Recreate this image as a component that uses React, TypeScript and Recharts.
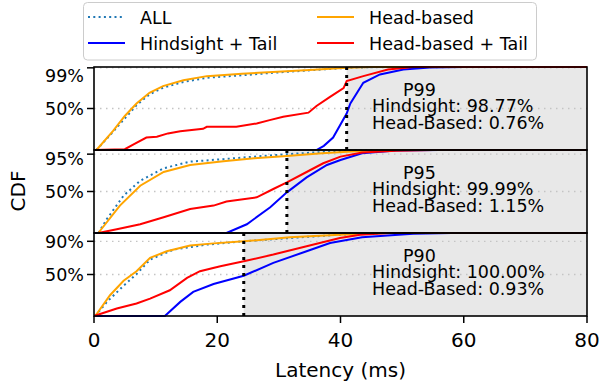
import React from 'react';
import { LineChart, Line, XAxis, YAxis, ReferenceArea, ReferenceLine, Label } from 'recharts';

const FONT = '"DejaVu Sans", Verdana, sans-serif';
const X_TICKS = [0, 20, 40, 60, 80];

// [latency ms, cumulative fraction]
const p99All = [[0.4, 0], [3.1, 0.22], [5, 0.38], [6.9, 0.54], [9, 0.67], [11.2, 0.75], [14.5, 0.82], [18.3, 0.87], [24, 0.9], [29, 0.93], [35, 0.96], [41, 0.99], [46, 1], [80, 1]];
const p99Hind = [[0, 0], [36.1, 0], [37.3, 0.05], [38.8, 0.15], [41, 0.44], [41.6, 0.56], [43.7, 0.81], [46.4, 0.91], [50.2, 0.97], [54.5, 0.995], [60, 1], [80, 1]];
const p99Head = [[0.4, 0], [3.1, 0.23], [5, 0.41], [6.9, 0.56], [9, 0.69], [11.2, 0.77], [14.5, 0.84], [18.3, 0.89], [24, 0.92], [29, 0.94], [35, 0.965], [41, 0.99], [45, 1], [80, 1]];
const p99HeadTail = [[0, 0], [5, 0.01], [6.5, 0.07], [8.5, 0.15], [10.2, 0.16], [12, 0.2], [14, 0.225], [17.7, 0.255], [18.3, 0.28], [23.1, 0.28], [26.4, 0.32], [28.5, 0.36], [30.7, 0.4], [34.8, 0.45], [36.1, 0.53], [38.3, 0.64], [40.5, 0.745], [41, 0.83], [43.7, 0.89], [47.7, 0.97], [51.8, 1], [80, 1]];

const p95All = [[0.7, 0], [2.1, 0.17], [4.8, 0.45], [7.5, 0.63], [11.3, 0.78], [15.6, 0.86], [21, 0.89], [26, 0.92], [31.3, 0.95], [38, 0.98], [45, 1], [80, 1]];
const p95Hind = [[0, 0], [21.5, 0], [24.8, 0.105], [28.6, 0.31], [31.3, 0.49], [34.5, 0.67], [37.8, 0.82], [40, 0.88], [43.5, 0.96], [49, 0.995], [56, 1], [80, 1]];
const p95Head = [[0.7, 0], [4.2, 0.33], [7.5, 0.57], [11.3, 0.735], [15.6, 0.82], [21, 0.865], [26, 0.9], [31.3, 0.927], [37, 0.96], [43.2, 0.988], [48, 1], [80, 1]];
const p95HeadTail = [[0.7, 0], [3.7, 0.045], [7.5, 0.105], [11.3, 0.19], [15.6, 0.29], [19.4, 0.33], [21.5, 0.38], [26.4, 0.43], [29.1, 0.53], [31.3, 0.61], [34.5, 0.735], [37.2, 0.84], [40, 0.92], [43.5, 0.97], [49, 0.99], [55, 1], [80, 1]];

const p90All = [[0.2, 0], [2.1, 0.17], [4.8, 0.365], [6.9, 0.505], [9.1, 0.68], [12.9, 0.8], [18.3, 0.86], [24.3, 0.9], [31.8, 0.94], [40, 0.98], [47, 1], [80, 1]];
const p90Hind = [[0, 0], [11.5, 0], [14, 0.17], [16.1, 0.29], [19.4, 0.385], [24.3, 0.485], [29.1, 0.64], [34.5, 0.78], [38.3, 0.88], [43.5, 0.95], [51.8, 0.99], [58, 1], [80, 1]];
const p90Head = [[0.2, 0], [2.6, 0.25], [4.8, 0.425], [6.9, 0.54], [9.1, 0.7], [11.8, 0.78], [15.6, 0.85], [19.4, 0.875], [24.3, 0.9], [31.8, 0.95], [39.9, 0.98], [46, 1], [80, 1]];
const p90HeadTail = [[0, 0], [3.7, 0.09], [6.9, 0.15], [9.1, 0.21], [12.3, 0.31], [15.1, 0.46], [17.2, 0.54], [20.5, 0.6], [24.3, 0.66], [29.1, 0.74], [34.5, 0.84], [39.9, 0.94], [43.2, 0.98], [48, 1], [80, 1]];

const panelTags = ['P99', 'P95', 'P90'];
const panelTicks = [0.99, 0.95, 0.9];
const panelCuts = [41, 31.3, 24.3];
const hindsightPct = ['98.77%', '99.99%', '100.00%'];
const headBasedPct = ['0.76%', '1.15%', '0.93%'];

const series = [
  { name: 'ALL', color: '#1f77b4', dash: '2 3.3' },
  { name: 'Hindsight + Tail', color: '#0000ff' },
  { name: 'Head-based', color: '#ffa500' },
  { name: 'Head-based + Tail', color: '#ff0000' },
];

const panelData = [
  [p99All, p99Hind, p99Head, p99HeadTail],
  [p95All, p95Hind, p95Head, p95HeadTail],
  [p90All, p90Hind, p90Head, p90HeadTail],
];

const toPts = (a: number[][]) => a.map(([x, y]) => ({ x, y }));

const PLOT_LEFT = 94;
const PLOT_RIGHT = 587;
const PLOT_TOP = [67, 150, 233];
const PLOT_H = 83;
const PAD = 2;
const X_AXIS_H = 71;

function Panel({ idx }: { idx: number }) {
  const last = idx === 2;
  const tick = panelTicks[idx];
  const cut = panelCuts[idx];
  const height = PLOT_H + PAD * 2 + (last ? X_AXIS_H - PAD : 0);
  return (
    <div style={{ position: 'absolute', left: 0, top: PLOT_TOP[idx] - PAD }}>
      <LineChart width={601} height={height} margin={{ top: PAD, right: 601 - PLOT_RIGHT, bottom: last ? 0 : PAD, left: 0 }}>
        <XAxis
          type="number"
          dataKey="x"
          domain={[0, 80]}
          ticks={X_TICKS}
          hide={!last}
          height={X_AXIS_H}
          axisLine={false}
          tickSize={7}
          tickMargin={10}
          tickLine={{ stroke: '#000', strokeWidth: 1.5 }}
          tick={{ fontSize: 20, fill: '#000', fontFamily: FONT }}
        >
          <Label value="Latency (ms)" position="insideBottom" offset={10} style={{ fontSize: 20, fill: '#000', fontFamily: FONT }} />
        </XAxis>
        <YAxis
          type="number"
          domain={[0, 1]}
          ticks={[0.5, tick]}
          width={PLOT_LEFT}
          axisLine={false}
          tickSize={7}
          tickMargin={3}
          tickLine={{ stroke: '#000', strokeWidth: 1.5 }}
          tick={{ fontSize: 17.5, fill: '#000', fontFamily: FONT }}
          tickFormatter={(v: number) => `${Math.round(v * 100)}%`}
        />
        <ReferenceArea x1={cut} x2={80} y1={0} y2={1} fill="#e8e8e8" fillOpacity={1} stroke="none" />
        {[0.5, tick].map((t) => (
          <ReferenceLine key={t} y={t} stroke="#c4c4c4" strokeWidth={1.3} strokeDasharray="1.5 4.5" />
        ))}
        {series.map((s, i) => (
          <Line
            key={s.name}
            data={toPts(panelData[idx][i])}
            dataKey="y"
            type="linear"
            stroke={s.color}
            strokeWidth={2}
            strokeDasharray={s.dash}
            dot={false}
            activeDot={false}
            isAnimationActive={false}
          />
        ))}
        <ReferenceLine x={cut} stroke="#000" strokeWidth={3} strokeDasharray="3 5" />
      </LineChart>
    </div>
  );
}

export default function App() {
  return (
    <div style={{ position: 'absolute', left: 0, top: 0, width: 601, height: 387, background: '#fff', fontFamily: FONT }}>
      {[0, 1, 2].map((i) => (
        <Panel key={i} idx={i} />
      ))}
      <svg width={601} height={387} style={{ position: 'absolute', left: 0, top: 0, pointerEvents: 'none' }} fontFamily={FONT}>
        {PLOT_TOP.map((t) => (
          <rect key={t} x={PLOT_LEFT} y={t} width={PLOT_RIGHT - PLOT_LEFT} height={PLOT_H} fill="none" stroke="#000" strokeWidth={1.6} />
        ))}
        <text x={18} y={191} transform="rotate(-90 18 191)" textAnchor="middle" dominantBaseline="central" fontSize={20} fill="#000">
          CDF
        </text>
        {panelTags.map((tag, i) => {
          const b = 95.5 + 83 * i;
          return (
            <g key={tag} fontSize={17.5} fill="#000">
              <text x={403} y={b}>{tag}</text>
              <text x={372} y={b + 16.7}>{`Hindsight: ${hindsightPct[i]}`}</text>
              <text x={372} y={b + 33.4}>{`Head-Based: ${headBasedPct[i]}`}</text>
            </g>
          );
        })}
        <rect x={83.5} y={2.5} width={453} height={57.5} rx={4} fill="#fff" fillOpacity={0.8} stroke="#cccccc" strokeWidth={1} />
        {series.map((s, i) => {
          const col = i < 2 ? 0 : 1;
          const row = i % 2;
          const lx = col === 0 ? 88 : 317;
          const cy = row === 0 ? 17 : 43;
          return (
            <g key={s.name}>
              <line x1={lx} x2={lx + 37} y1={cy} y2={cy} stroke={s.color} strokeWidth={2} strokeDasharray={s.dash} />
              <text x={lx + 52} y={cy + 6.5} fontSize={17.5} fill="#000">
                {s.name}
              </text>
            </g>
          );
        })}
      </svg>
    </div>
  );
}
